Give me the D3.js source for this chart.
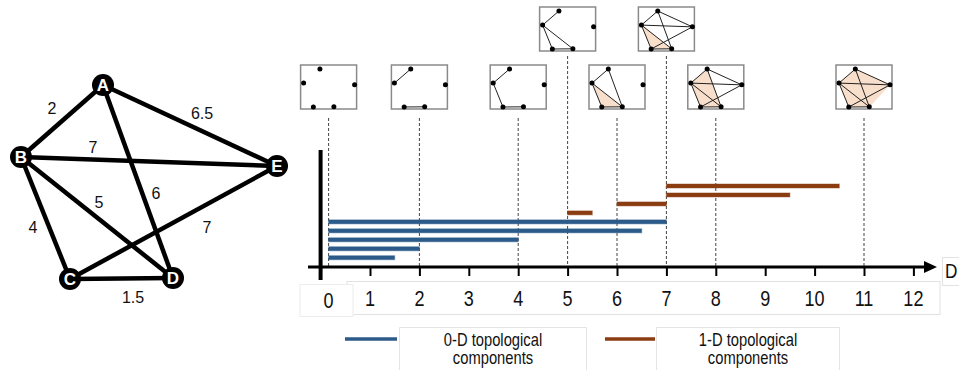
<!DOCTYPE html>
<html>
<head>
<meta charset="utf-8">
<script src="https://cdn.jsdelivr.net/npm/d3@7"></script>
<style>
  body { margin: 0; background: #fff; }
  svg { display: block; }
</style>
</head>
<body>
<div id="chart"></div>
<script>
// ---- data ----
const nodeNames = ['A', 'B', 'C', 'D', 'E'];
const edgeList = [
    ['A', 'B', 2], ['A', 'E', 6.5], ['A', 'D', 6], ['B', 'E', 7],
    ['B', 'D', 5], ['B', 'C', 4], ['C', 'E', 7], ['C', 'D', 1.5],
];
const zeroDBars = [[0, 7], [0, 6.5], [0, 4], [0, 2], [0, 1.5]];
const oneDBars = [[7, 10.5], [7, 9.5], [6, 7], [5, 5.5]];
const snapshotTimes = [0, 2, 4, 5, 6, 7, 8, 11];
const raisedSnapshots = [5, 7];
const filledTriangles = {
    6: [['B', 'C', 'D']],
    7: [['B', 'C', 'D']],
    8: [['A', 'B', 'D'], ['B', 'C', 'D']],
    11: [['A', 'B', 'E'], ['E', 'B', 'D'], ['D', 'B', 'C']],
};
const tickLabels = ['0', '1', '2', '3', '4', '5', '6', '7', '8', '9', '10', '11', '12'];
const legendLabels = [['0-D topological', 'components'], ['1-D topological', 'components']];
const axisTitle = 'D';

// ---- layout ----
const nodePos = {
    A: [103, 85], B: [21, 157], C: [70, 279], D: [173, 278], E: [277, 166],
};
const edgeLabelPos = [[52, 108], [202, 113], [156, 193], [93, 147], [99, 202], [33, 227], [207, 227], [133, 297]];
const blue = '#2c5b89';
const brown = '#8b3d12';
const peach = '#f8dfcc';

const svg = d3.select('#chart').append('svg')
    .attr('width', 959).attr('height', 370)
    .style('font-family', '"Liberation Sans", Arial, sans-serif');

svg.append('rect').attr('width', 959).attr('height', 370).attr('fill', '#fff');

function narrowText(g, x, y, str, size, anchor) {
    return g.append('text')
        .attr('transform', `translate(${x},${y}) scale(0.82,1)`)
        .attr('text-anchor', anchor || 'middle')
        .attr('font-size', size)
        .attr('fill', '#111')
        .text(str);
}

// ---- weighted graph on the left ----
const graph = svg.append('g');
graph.selectAll('line.edge')
    .data(edgeList)
    .join('line')
    .attr('x1', (d) => nodePos[d[0]][0]).attr('y1', (d) => nodePos[d[0]][1])
    .attr('x2', (d) => nodePos[d[1]][0]).attr('y2', (d) => nodePos[d[1]][1])
    .attr('stroke', '#000').attr('stroke-width', 4.5);

graph.selectAll('text.weight')
    .data(edgeList)
    .join('text')
    .attr('x', (d, i) => edgeLabelPos[i][0])
    .attr('y', (d, i) => edgeLabelPos[i][1])
    .attr('text-anchor', 'middle').attr('dominant-baseline', 'central')
    .attr('font-size', 16).attr('fill', '#111')
    .text((d) => d[2]);

const nodeG = graph.selectAll('g.node')
    .data(nodeNames)
    .join('g')
    .attr('transform', (d) => `translate(${nodePos[d][0]},${nodePos[d][1]})`);
nodeG.append('circle').attr('r', 11).attr('fill', '#000');
nodeG.append('text')
    .attr('text-anchor', 'middle').attr('dominant-baseline', 'central')
    .attr('font-size', 17).attr('font-weight', 'bold').attr('fill', '#fff')
    .text((d) => d);

// ---- barcode ----
const x = d3.scaleLinear().domain([0, 12]).range([320.6, 913.4]);
const axisY = 267;
const zeroInset = 8;
const bx = (v) => (v === 0 ? x(0) + zeroInset : x(v));

const rows = d3.scalePoint().domain(d3.range(oneDBars.length + zeroDBars.length)).range([186, 257.7]);

// snapshot dashed guides
svg.selectAll('line.guide')
    .data(snapshotTimes)
    .join('line')
    .attr('x1', bx).attr('x2', bx)
    .attr('y1', (d) => (raisedSnapshots.includes(d) ? 56 : 118))
    .attr('y2', axisY)
    .attr('stroke', '#444').attr('stroke-width', 1)
    .attr('stroke-dasharray', '3,2');

const bars = oneDBars.map((d) => ({ d, c: brown })).concat(zeroDBars.map((d) => ({ d, c: blue })));
svg.selectAll('rect.bar')
    .data(bars)
    .join('rect')
    .attr('x', (b) => bx(b.d[0]))
    .attr('width', (b) => x(b.d[1]) - bx(b.d[0]))
    .attr('y', (b, i) => rows(i) - 2)
    .attr('height', 4)
    .attr('fill', (b) => b.c)
    .attr('stroke', (b) => b.c).attr('stroke-opacity', 0.35).attr('stroke-width', 1.2);

// axes
svg.append('line')
    .attr('x1', x(0)).attr('x2', x(0)).attr('y1', 150).attr('y2', 280)
    .attr('stroke', '#000').attr('stroke-width', 4);
svg.append('line')
    .attr('x1', 308).attr('x2', 926).attr('y1', axisY).attr('y2', axisY)
    .attr('stroke', '#000').attr('stroke-width', 3);
svg.append('path')
    .attr('d', `M924,${axisY - 6}L937,${axisY}L924,${axisY + 6}Z`)
    .attr('fill', '#000');

const axis = svg.append('g')
    .attr('transform', `translate(0,${axisY})`)
    .call(d3.axisBottom(x).tickValues(d3.range(1, 13)).tickSize(9).tickFormat(''));
axis.select('.domain').remove();
axis.selectAll('line').attr('stroke', '#000').attr('stroke-width', 2);

// tick label boxes
svg.append('rect').attr('x', 347).attr('y', 281.5).attr('width', 593).attr('height', 33)
    .attr('fill', '#fff').attr('stroke', '#e2e2e2');
svg.append('rect').attr('x', 300).attr('y', 284.5).attr('width', 53).attr('height', 32)
    .attr('fill', '#fff').attr('stroke', '#ececec');
svg.selectAll('g.tick-label')
    .data(tickLabels)
    .join('g')
    .each(function (d, i) {
        narrowText(d3.select(this), i === 0 ? x(0) + zeroInset : x(+d), i === 0 ? 308 : 306, d, 22);
    });

svg.append('rect').attr('x', 942.5).attr('y', 257.5).attr('width', 20).attr('height', 28)
    .attr('fill', '#fff').attr('stroke', '#e2e2e2');
narrowText(svg, 945, 278, axisTitle, 21, 'start');

// ---- filtration snapshots ----
const boxW = 56;
const boxH = 44;
snapshotTimes.forEach((t) => {
    const cx = bx(t);
    const y0 = raisedSnapshots.includes(t) ? 7 : 65;
    const x0 = cx - boxW / 2;
    const g = svg.append('g');
    const sx = d3.scaleLinear().domain([21, 277]).range([x0 + 3, x0 + boxW - 2]);
    const sy = d3.scaleLinear().domain([85, 279]).range([y0 + 4, y0 + boxH - 2]);
    const p = (n) => [sx(nodePos[n][0]), sy(nodePos[n][1])];

    g.append('rect').attr('x', x0).attr('y', y0).attr('width', boxW).attr('height', boxH)
        .attr('fill', '#fff').attr('stroke', '#8a8a8a').attr('stroke-width', 1.5);

    g.selectAll('path.tri')
        .data(filledTriangles[t] || [])
        .join('path')
        .attr('d', (tri) => 'M' + tri.map((n) => p(n).join(',')).join('L') + 'Z')
        .attr('fill', peach).attr('stroke', peach).attr('stroke-width', 0.5);

    g.selectAll('line.e')
        .data(edgeList.filter((e) => e[2] <= t))
        .join('line')
        .attr('x1', (e) => p(e[0])[0]).attr('y1', (e) => p(e[0])[1])
        .attr('x2', (e) => p(e[1])[0]).attr('y2', (e) => p(e[1])[1])
        .attr('stroke', '#222').attr('stroke-width', 1);

    g.selectAll('circle')
        .data(nodeNames)
        .join('circle')
        .attr('cx', (n) => p(n)[0]).attr('cy', (n) => p(n)[1])
        .attr('r', 2.5).attr('fill', '#000');
});

// ---- legend ----
const legendX = [[345, 397, 399, 587], [605, 655, 656, 840]];
legendLabels.forEach((lines, i) => {
    const [lx0, lx1, bx0, bx1] = legendX[i];
    svg.append('line').attr('x1', lx0).attr('x2', lx1).attr('y1', 339).attr('y2', 339)
        .attr('stroke', i === 0 ? blue : brown).attr('stroke-width', 3.5);
    svg.append('path')
        .attr('d', `M${bx0 + 0.5},372V327.5H${bx1 - 0.5}V372`)
        .attr('fill', 'none').attr('stroke', '#e4e4e4');
    lines.forEach((s, j) => {
        narrowText(svg, (bx0 + bx1) / 2, 346 + j * 18, s, 18);
    });
});
</script>
</body>
</html>
